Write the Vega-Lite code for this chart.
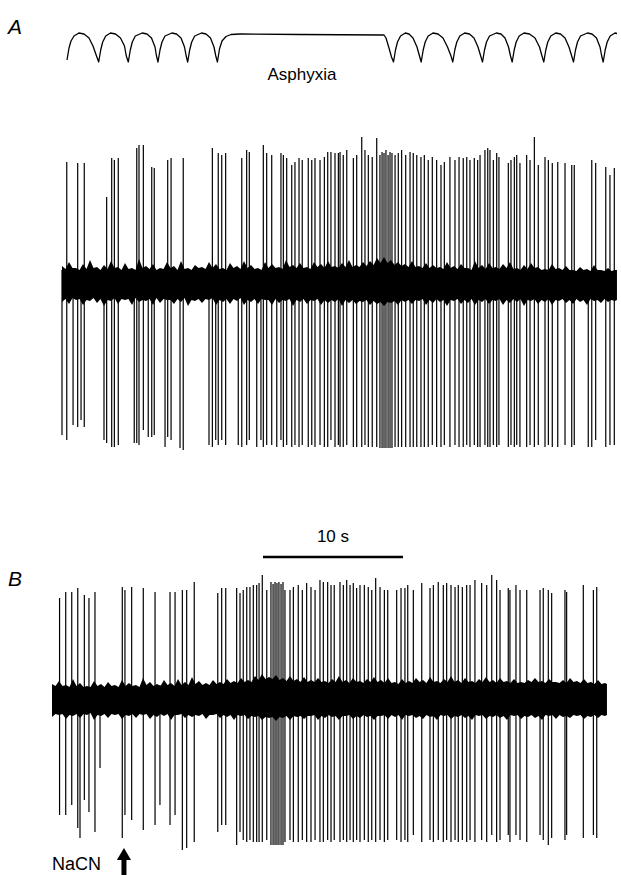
{
  "$schema": "https://vega.github.io/schema/vega-lite/v6.json",
  "padding": 0,
  "spacing": 0,
  "background": "white",
  "config": {"view": {"stroke": null}, "concat": {"spacing": 0}},
  "datasets": {
    "resp": [
      {"t":0.357,"v":2},{"t":0.5,"v":14},{"t":0.643,"v":21},{"t":0.857,"v":26},{"t":1.207,"v":29},{"t":1.571,"v":28},{"t":1.929,"v":24},{"t":2.214,"v":16},{"t":2.464,"v":6},{"t":2.621,"v":0},
      {"t":2.764,"v":12},{"t":2.907,"v":20},{"t":3.121,"v":26},{"t":3.464,"v":29},{"t":3.821,"v":28},{"t":4.179,"v":24},{"t":4.464,"v":16},{"t":4.593,"v":6},{"t":4.736,"v":0},
      {"t":4.879,"v":12},{"t":5.021,"v":20},{"t":5.236,"v":26},{"t":5.729,"v":29},{"t":6.071,"v":28},{"t":6.393,"v":24},{"t":6.643,"v":15},{"t":6.75,"v":6},{"t":6.857,"v":0},
      {"t":7.0,"v":12},{"t":7.143,"v":20},{"t":7.357,"v":26},{"t":7.85,"v":29},{"t":8.179,"v":28},{"t":8.5,"v":24},{"t":8.75,"v":15},{"t":8.871,"v":6},{"t":8.979,"v":0},
      {"t":9.121,"v":12},{"t":9.264,"v":20},{"t":9.479,"v":26},{"t":9.964,"v":29},{"t":10.286,"v":28},{"t":10.607,"v":24},{"t":10.857,"v":15},{"t":10.986,"v":6},{"t":11.1,"v":0},
      {"t":11.25,"v":13},{"t":11.429,"v":21},{"t":11.714,"v":25.5},{"t":12.071,"v":27.5},{"t":12.714,"v":28},{"t":17.0,"v":27.5},{"t":23.0,"v":27},
      {"t":23.143,"v":24},{"t":23.357,"v":14},{"t":23.536,"v":5},{"t":23.679,"v":0},
      {"t":23.821,"v":12},{"t":23.964,"v":20},{"t":24.179,"v":26},{"t":24.521,"v":29},{"t":24.786,"v":28},{"t":25.071,"v":24},{"t":25.357,"v":15},{"t":25.536,"v":6},{"t":25.657,"v":0},
      {"t":25.8,"v":12},{"t":25.943,"v":20},{"t":26.157,"v":26},{"t":26.5,"v":29},{"t":26.857,"v":28},{"t":27.214,"v":24},{"t":27.536,"v":15},{"t":27.786,"v":6},{"t":27.914,"v":0},
      {"t":28.057,"v":12},{"t":28.2,"v":20},{"t":28.414,"v":26},{"t":28.764,"v":29},{"t":29.107,"v":28},{"t":29.429,"v":24},{"t":29.714,"v":15},{"t":29.907,"v":6},{"t":30.036,"v":0},
      {"t":30.179,"v":12},{"t":30.321,"v":20},{"t":30.536,"v":26},{"t":31.021,"v":29},{"t":31.357,"v":28},{"t":31.643,"v":24},{"t":31.893,"v":15},{"t":32.036,"v":6},{"t":32.157,"v":0},
      {"t":32.3,"v":12},{"t":32.443,"v":20},{"t":32.657,"v":26},{"t":33.0,"v":29},{"t":33.393,"v":28},{"t":33.786,"v":24},{"t":34.107,"v":15},{"t":34.286,"v":6},{"t":34.414,"v":0},
      {"t":34.557,"v":12},{"t":34.7,"v":20},{"t":34.914,"v":26},{"t":35.264,"v":29},{"t":35.607,"v":28},{"t":35.929,"v":24},{"t":36.214,"v":15},{"t":36.407,"v":6},{"t":36.536,"v":0},
      {"t":36.679,"v":12},{"t":36.821,"v":20},{"t":37.036,"v":26},{"t":37.529,"v":29},{"t":37.857,"v":28},{"t":38.179,"v":24},{"t":38.429,"v":15},{"t":38.55,"v":6},{"t":38.657,"v":0},
      {"t":38.8,"v":12},{"t":38.943,"v":20},{"t":39.157,"v":26},{"t":39.5,"v":29},{"t":39.643,"v":28.5}
    ],
    "panelA": [{"t":-3.357,"v":34,"label":"A"}],
    "noteTop": [{"t":17.14,"v":-13,"label":"Asphyxia"}],
    "bandA": [
      {"t":0,"hi":19,"lo":-17},{"t":0.25,"hi":16,"lo":-14},{"t":0.5,"hi":23,"lo":-19},{"t":0.75,"hi":17,"lo":-13},{"t":1,"hi":17,"lo":-15},{"t":1.25,"hi":15,"lo":-14},{"t":1.5,"hi":21,"lo":-20},{"t":1.75,"hi":16,"lo":-15},{"t":2,"hi":25,"lo":-16},{"t":2.25,"hi":17,"lo":-13},{"t":2.5,"hi":18,"lo":-18},{"t":2.75,"hi":15,"lo":-14},{"t":3,"hi":20,"lo":-21},{"t":3.25,"hi":16,"lo":-15},{"t":3.5,"hi":24,"lo":-16},{"t":3.75,"hi":17,"lo":-13},{"t":4,"hi":18,"lo":-19},{"t":4.25,"hi":15,"lo":-14},{"t":4.5,"hi":22,"lo":-15},{"t":4.75,"hi":16,"lo":-14},
      {"t":5,"hi":17,"lo":-20},{"t":5.25,"hi":15,"lo":-13},{"t":5.5,"hi":26,"lo":-17},{"t":5.75,"hi":17,"lo":-15},{"t":6,"hi":19,"lo":-16},{"t":6.25,"hi":16,"lo":-14},{"t":6.5,"hi":21,"lo":-20},{"t":6.75,"hi":15,"lo":-13},{"t":7,"hi":17,"lo":-18},{"t":7.25,"hi":16,"lo":-14},{"t":7.5,"hi":23,"lo":-15},{"t":7.75,"hi":17,"lo":-15},{"t":8,"hi":19,"lo":-19},{"t":8.25,"hi":15,"lo":-14},{"t":8.5,"hi":24,"lo":-17},{"t":8.75,"hi":16,"lo":-13},{"t":9,"hi":17,"lo":-21},{"t":9.25,"hi":15,"lo":-15},{"t":9.5,"hi":20,"lo":-16},{"t":9.75,"hi":17,"lo":-14},
      {"t":10,"hi":18,"lo":-18},{"t":10.25,"hi":16,"lo":-14},{"t":10.5,"hi":23,"lo":-15},{"t":10.75,"hi":17,"lo":-13},{"t":11,"hi":21,"lo":-20},{"t":11.25,"hi":16,"lo":-15},{"t":11.5,"hi":17,"lo":-17},{"t":11.75,"hi":15,"lo":-14},{"t":12,"hi":22,"lo":-19},{"t":12.25,"hi":17,"lo":-14},{"t":12.5,"hi":19,"lo":-16},{"t":12.75,"hi":16,"lo":-13},{"t":13,"hi":24,"lo":-20},{"t":13.25,"hi":17,"lo":-15},{"t":13.5,"hi":20,"lo":-17},{"t":13.75,"hi":16,"lo":-14},{"t":14,"hi":17,"lo":-19},{"t":14.25,"hi":15,"lo":-14},{"t":14.5,"hi":23,"lo":-15},{"t":14.75,"hi":17,"lo":-15},
      {"t":15,"hi":21,"lo":-20},{"t":15.25,"hi":17,"lo":-14},{"t":15.5,"hi":18,"lo":-18},{"t":15.75,"hi":16,"lo":-15},{"t":16,"hi":25,"lo":-16},{"t":16.25,"hi":18,"lo":-14},{"t":16.5,"hi":20,"lo":-21},{"t":16.75,"hi":17,"lo":-15},{"t":17,"hi":22,"lo":-17},{"t":17.25,"hi":17,"lo":-14},{"t":17.5,"hi":18,"lo":-19},{"t":17.75,"hi":16,"lo":-15},{"t":18,"hi":23,"lo":-16},{"t":18.25,"hi":18,"lo":-14},{"t":18.5,"hi":21,"lo":-20},{"t":18.75,"hi":17,"lo":-15},{"t":19,"hi":24,"lo":-18},{"t":19.25,"hi":18,"lo":-15},{"t":19.5,"hi":19,"lo":-17},{"t":19.75,"hi":17,"lo":-14},
      {"t":20,"hi":22,"lo":-21},{"t":20.25,"hi":18,"lo":-15},{"t":20.5,"hi":25,"lo":-18},{"t":20.75,"hi":18,"lo":-15},{"t":21,"hi":20,"lo":-19},{"t":21.25,"hi":18,"lo":-16},{"t":21.5,"hi":23,"lo":-17},{"t":21.75,"hi":19,"lo":-15},{"t":22,"hi":24,"lo":-20},{"t":22.25,"hi":20,"lo":-16},{"t":22.5,"hi":27,"lo":-19},{"t":22.75,"hi":22,"lo":-17},{"t":23,"hi":28,"lo":-21},{"t":23.25,"hi":22,"lo":-17},{"t":23.5,"hi":25,"lo":-18},{"t":23.75,"hi":20,"lo":-16},{"t":24,"hi":23,"lo":-20},{"t":24.25,"hi":19,"lo":-15},{"t":24.5,"hi":21,"lo":-17},{"t":24.75,"hi":18,"lo":-15},
      {"t":25,"hi":24,"lo":-19},{"t":25.25,"hi":18,"lo":-15},{"t":25.5,"hi":19,"lo":-16},{"t":25.75,"hi":17,"lo":-14},{"t":26,"hi":22,"lo":-20},{"t":26.25,"hi":17,"lo":-15},{"t":26.5,"hi":20,"lo":-18},{"t":26.75,"hi":17,"lo":-14},{"t":27,"hi":18,"lo":-17},{"t":27.25,"hi":16,"lo":-15},{"t":27.5,"hi":23,"lo":-21},{"t":27.75,"hi":17,"lo":-15},{"t":28,"hi":19,"lo":-16},{"t":28.25,"hi":16,"lo":-14},{"t":28.5,"hi":21,"lo":-19},{"t":28.75,"hi":17,"lo":-15},{"t":29,"hi":17,"lo":-18},{"t":29.25,"hi":15,"lo":-14},{"t":29.5,"hi":24,"lo":-20},{"t":29.75,"hi":17,"lo":-15},
      {"t":30,"hi":20,"lo":-17},{"t":30.25,"hi":16,"lo":-14},{"t":30.5,"hi":22,"lo":-19},{"t":30.75,"hi":17,"lo":-15},{"t":31,"hi":18,"lo":-16},{"t":31.25,"hi":16,"lo":-14},{"t":31.5,"hi":21,"lo":-20},{"t":31.75,"hi":17,"lo":-15},{"t":32,"hi":23,"lo":-18},{"t":32.25,"hi":16,"lo":-14},{"t":32.5,"hi":17,"lo":-17},{"t":32.75,"hi":15,"lo":-14},{"t":33,"hi":20,"lo":-21},{"t":33.25,"hi":16,"lo":-15},{"t":33.5,"hi":22,"lo":-16},{"t":33.75,"hi":17,"lo":-14},{"t":34,"hi":18,"lo":-19},{"t":34.25,"hi":15,"lo":-15},{"t":34.5,"hi":16,"lo":-17},{"t":34.75,"hi":15,"lo":-14},
      {"t":35,"hi":21,"lo":-20},{"t":35.25,"hi":16,"lo":-15},{"t":35.5,"hi":17,"lo":-16},{"t":35.75,"hi":15,"lo":-14},{"t":36,"hi":19,"lo":-18},{"t":36.25,"hi":15,"lo":-15},{"t":36.5,"hi":15,"lo":-19},{"t":36.75,"hi":14,"lo":-14},{"t":37,"hi":18,"lo":-17},{"t":37.25,"hi":15,"lo":-15},{"t":37.5,"hi":16,"lo":-20},{"t":37.75,"hi":14,"lo":-14},{"t":38,"hi":20,"lo":-16},{"t":38.25,"hi":15,"lo":-15},{"t":38.5,"hi":15,"lo":-18},{"t":38.75,"hi":14,"lo":-14},{"t":39,"hi":17,"lo":-17},{"t":39.25,"hi":14,"lo":-15},{"t":39.5,"hi":15,"lo":-16},{"t":39.64,"hi":15,"lo":-15}
    ],
    "spikesA": [
      {"t":0.00,"hi":15,"lo":-150},{"t":0.34,"hi":123,"lo":-155},{"t":0.79,"hi":15,"lo":-140},{"t":1.12,"hi":122,"lo":-142},{"t":1.36,"hi":15,"lo":-135},{"t":1.59,"hi":122,"lo":-142},
      {"t":3.00,"hi":15,"lo":-155},{"t":3.19,"hi":88,"lo":-158},{"t":3.55,"hi":127,"lo":-162},{"t":3.74,"hi":125,"lo":-162},{"t":4.02,"hi":127,"lo":-160},
      {"t":5.16,"hi":15,"lo":-158},{"t":5.34,"hi":137,"lo":-158},{"t":5.50,"hi":140,"lo":-160},{"t":5.81,"hi":140,"lo":-145},{"t":6.16,"hi":15,"lo":-152},{"t":6.41,"hi":118,"lo":-152},{"t":6.59,"hi":117,"lo":-150},
      {"t":7.36,"hi":15,"lo":-162},{"t":7.55,"hi":125,"lo":-152},{"t":7.79,"hi":127,"lo":-155},{"t":8.43,"hi":15,"lo":-163},{"t":8.66,"hi":127,"lo":-165},
      {"t":10.50,"hi":15,"lo":-160},{"t":10.74,"hi":137,"lo":-162},{"t":10.98,"hi":15,"lo":-155},{"t":11.16,"hi":132,"lo":-160},{"t":11.41,"hi":130,"lo":-155},{"t":11.69,"hi":132,"lo":-160},
      {"t":12.59,"hi":15,"lo":-160},{"t":12.84,"hi":127,"lo":-162},{"t":13.19,"hi":135,"lo":-160},{"t":13.38,"hi":133,"lo":-155},{"t":13.91,"hi":15,"lo":-162},{"t":14.21,"hi":15,"lo":-155},
      {"t":14.38,"hi":140,"lo":-162},{"t":14.62,"hi":132,"lo":-160},{"t":14.98,"hi":130,"lo":-160},{"t":15.34,"hi":15,"lo":-162},{"t":15.64,"hi":132,"lo":-155},{"t":15.81,"hi":130,"lo":-162},
      {"t":16.05,"hi":127,"lo":-160},{"t":16.41,"hi":120,"lo":-162},{"t":16.64,"hi":123,"lo":-160},{"t":16.93,"hi":127,"lo":-162},{"t":17.16,"hi":125,"lo":-160},{"t":17.59,"hi":127,"lo":-162},
      {"t":17.84,"hi":125,"lo":-160},{"t":18.07,"hi":127,"lo":-162},{"t":18.43,"hi":125,"lo":-160},{"t":18.74,"hi":128,"lo":-162},{"t":18.98,"hi":133,"lo":-162},{"t":19.21,"hi":133,"lo":-155},
      {"t":19.50,"hi":132,"lo":-162},{"t":19.74,"hi":132,"lo":-160},{"t":19.86,"hi":133,"lo":-162},{"t":20.09,"hi":130,"lo":-162},{"t":20.34,"hi":135,"lo":-160},{"t":20.81,"hi":127,"lo":-162},
      {"t":21.05,"hi":130,"lo":-162},{"t":21.41,"hi":148,"lo":-162},{"t":21.64,"hi":135,"lo":-160},{"t":21.88,"hi":130,"lo":-162},{"t":22.16,"hi":128,"lo":-162},{"t":22.48,"hi":147,"lo":-162},
      {"t":22.71,"hi":130,"lo":-163},{"t":22.86,"hi":133,"lo":-163},{"t":23.00,"hi":132,"lo":-163},{"t":23.14,"hi":135,"lo":-163},{"t":23.29,"hi":130,"lo":-163},{"t":23.43,"hi":133,"lo":-163},{"t":23.57,"hi":132,"lo":-163},
      {"t":23.79,"hi":130,"lo":-162},{"t":24.02,"hi":132,"lo":-162},{"t":24.26,"hi":135,"lo":-162},{"t":24.55,"hi":130,"lo":-162},{"t":24.86,"hi":133,"lo":-162},{"t":25.09,"hi":132,"lo":-162},
      {"t":25.34,"hi":130,"lo":-162},{"t":25.64,"hi":128,"lo":-162},{"t":25.88,"hi":130,"lo":-162},{"t":26.16,"hi":125,"lo":-162},{"t":26.45,"hi":128,"lo":-160},{"t":26.76,"hi":125,"lo":-162},
      {"t":27.07,"hi":120,"lo":-162},{"t":27.31,"hi":123,"lo":-160},{"t":27.71,"hi":128,"lo":-162},{"t":28.07,"hi":125,"lo":-160},{"t":28.36,"hi":128,"lo":-162},{"t":28.66,"hi":127,"lo":-162},
      {"t":28.91,"hi":128,"lo":-160},{"t":29.14,"hi":125,"lo":-162},{"t":29.45,"hi":127,"lo":-160},{"t":29.69,"hi":125,"lo":-162},{"t":29.86,"hi":130,"lo":-162},{"t":30.21,"hi":135,"lo":-160},
      {"t":30.41,"hi":137,"lo":-162},{"t":30.57,"hi":135,"lo":-162},{"t":30.81,"hi":125,"lo":-160},{"t":31.05,"hi":132,"lo":-162},{"t":31.21,"hi":128,"lo":-160},{"t":31.88,"hi":122,"lo":-162},
      {"t":32.07,"hi":125,"lo":-160},{"t":32.31,"hi":128,"lo":-162},{"t":32.48,"hi":130,"lo":-160},{"t":32.71,"hi":122,"lo":-162},{"t":33.19,"hi":130,"lo":-162},{"t":33.43,"hi":125,"lo":-160},
      {"t":33.74,"hi":148,"lo":-162},{"t":34.02,"hi":120,"lo":-160},{"t":34.50,"hi":128,"lo":-162},{"t":34.74,"hi":125,"lo":-160},{"t":35.02,"hi":122,"lo":-162},{"t":35.41,"hi":123,"lo":-162},
      {"t":35.93,"hi":122,"lo":-160},{"t":36.41,"hi":120,"lo":-162},{"t":36.59,"hi":120,"lo":-160},{"t":37.59,"hi":15,"lo":-162},{"t":37.84,"hi":125,"lo":-162},{"t":38.12,"hi":122,"lo":-155},
      {"t":38.84,"hi":118,"lo":-162},{"t":39.14,"hi":110,"lo":-160},{"t":39.45,"hi":117,"lo":-160}
    ],
    "bandB": [
      {"t":0,"hi":16,"lo":-17},{"t":0.25,"hi":14,"lo":-14},{"t":0.5,"hi":19,"lo":-15},{"t":0.75,"hi":14,"lo":-14},{"t":1,"hi":15,"lo":-19},{"t":1.25,"hi":13,"lo":-15},{"t":1.5,"hi":21,"lo":-16},{"t":1.75,"hi":14,"lo":-14},{"t":2,"hi":17,"lo":-18},{"t":2.25,"hi":13,"lo":-14},{"t":2.5,"hi":14,"lo":-15},{"t":2.75,"hi":13,"lo":-13},{"t":3,"hi":19,"lo":-20},{"t":3.25,"hi":14,"lo":-15},{"t":3.5,"hi":16,"lo":-16},{"t":3.75,"hi":13,"lo":-14},{"t":4,"hi":18,"lo":-18},{"t":4.25,"hi":14,"lo":-14},{"t":4.5,"hi":15,"lo":-15},{"t":4.75,"hi":13,"lo":-14},
      {"t":5,"hi":20,"lo":-19},{"t":5.25,"hi":14,"lo":-15},{"t":5.5,"hi":17,"lo":-16},{"t":5.75,"hi":14,"lo":-14},{"t":6,"hi":15,"lo":-18},{"t":6.25,"hi":13,"lo":-14},{"t":6.5,"hi":22,"lo":-15},{"t":6.75,"hi":15,"lo":-14},{"t":7,"hi":18,"lo":-19},{"t":7.25,"hi":14,"lo":-15},{"t":7.5,"hi":16,"lo":-17},{"t":7.75,"hi":14,"lo":-14},{"t":8,"hi":20,"lo":-16},{"t":8.25,"hi":15,"lo":-14},{"t":8.5,"hi":17,"lo":-20},{"t":8.75,"hi":14,"lo":-15},{"t":9,"hi":21,"lo":-15},{"t":9.25,"hi":15,"lo":-14},{"t":9.5,"hi":18,"lo":-18},{"t":9.75,"hi":15,"lo":-15},
      {"t":10,"hi":23,"lo":-17},{"t":10.25,"hi":16,"lo":-15},{"t":10.5,"hi":19,"lo":-16},{"t":10.75,"hi":15,"lo":-14},{"t":11,"hi":17,"lo":-19},{"t":11.25,"hi":15,"lo":-15},{"t":11.5,"hi":20,"lo":-15},{"t":11.75,"hi":16,"lo":-14},{"t":12,"hi":18,"lo":-18},{"t":12.25,"hi":16,"lo":-15},{"t":12.5,"hi":21,"lo":-17},{"t":12.75,"hi":17,"lo":-15},{"t":13,"hi":19,"lo":-20},{"t":13.25,"hi":17,"lo":-15},{"t":13.5,"hi":22,"lo":-16},{"t":13.75,"hi":18,"lo":-15},{"t":14,"hi":20,"lo":-19},{"t":14.25,"hi":18,"lo":-16},{"t":14.5,"hi":24,"lo":-17},{"t":14.75,"hi":20,"lo":-16},
      {"t":15,"hi":26,"lo":-20},{"t":15.25,"hi":21,"lo":-17},{"t":15.5,"hi":23,"lo":-18},{"t":15.75,"hi":21,"lo":-17},{"t":16,"hi":25,"lo":-21},{"t":16.25,"hi":20,"lo":-17},{"t":16.5,"hi":22,"lo":-18},{"t":16.75,"hi":19,"lo":-16},{"t":17,"hi":24,"lo":-20},{"t":17.25,"hi":19,"lo":-16},{"t":17.5,"hi":21,"lo":-17},{"t":17.75,"hi":18,"lo":-16},{"t":18,"hi":23,"lo":-19},{"t":18.25,"hi":18,"lo":-16},{"t":18.5,"hi":20,"lo":-16},{"t":18.75,"hi":18,"lo":-15},{"t":19,"hi":22,"lo":-20},{"t":19.25,"hi":18,"lo":-16},{"t":19.5,"hi":19,"lo":-18},{"t":19.75,"hi":17,"lo":-15},
      {"t":20,"hi":21,"lo":-17},{"t":20.25,"hi":18,"lo":-16},{"t":20.5,"hi":24,"lo":-20},{"t":20.75,"hi":18,"lo":-16},{"t":21,"hi":20,"lo":-16},{"t":21.25,"hi":17,"lo":-15},{"t":21.5,"hi":22,"lo":-19},{"t":21.75,"hi":18,"lo":-16},{"t":22,"hi":19,"lo":-18},{"t":22.25,"hi":17,"lo":-15},{"t":22.5,"hi":21,"lo":-17},{"t":22.75,"hi":18,"lo":-16},{"t":23,"hi":23,"lo":-20},{"t":23.25,"hi":18,"lo":-16},{"t":23.5,"hi":20,"lo":-16},{"t":23.75,"hi":17,"lo":-15},{"t":24,"hi":22,"lo":-19},{"t":24.25,"hi":17,"lo":-15},{"t":24.5,"hi":18,"lo":-17},{"t":24.75,"hi":16,"lo":-15},
      {"t":25,"hi":21,"lo":-20},{"t":25.25,"hi":17,"lo":-15},{"t":25.5,"hi":19,"lo":-16},{"t":25.75,"hi":17,"lo":-15},{"t":26,"hi":22,"lo":-18},{"t":26.25,"hi":18,"lo":-16},{"t":26.5,"hi":20,"lo":-19},{"t":26.75,"hi":17,"lo":-15},{"t":27,"hi":23,"lo":-17},{"t":27.25,"hi":18,"lo":-16},{"t":27.5,"hi":19,"lo":-20},{"t":27.75,"hi":17,"lo":-15},{"t":28,"hi":21,"lo":-16},{"t":28.25,"hi":18,"lo":-15},{"t":28.5,"hi":24,"lo":-19},{"t":28.75,"hi":18,"lo":-16},{"t":29,"hi":20,"lo":-17},{"t":29.25,"hi":17,"lo":-15},{"t":29.5,"hi":22,"lo":-18},{"t":29.75,"hi":18,"lo":-16},
      {"t":30,"hi":19,"lo":-20},{"t":30.25,"hi":17,"lo":-15},{"t":30.5,"hi":21,"lo":-16},{"t":30.75,"hi":18,"lo":-15},{"t":31,"hi":23,"lo":-19},{"t":31.25,"hi":18,"lo":-16},{"t":31.5,"hi":20,"lo":-17},{"t":31.75,"hi":17,"lo":-15},{"t":32,"hi":22,"lo":-18},{"t":32.25,"hi":18,"lo":-16},{"t":32.5,"hi":19,"lo":-20},{"t":32.75,"hi":17,"lo":-15},{"t":33,"hi":21,"lo":-16},{"t":33.25,"hi":17,"lo":-15},{"t":33.5,"hi":18,"lo":-19},{"t":33.75,"hi":17,"lo":-16},{"t":34,"hi":20,"lo":-17},{"t":34.25,"hi":18,"lo":-15},{"t":34.5,"hi":22,"lo":-18},{"t":34.75,"hi":18,"lo":-16},
      {"t":35,"hi":19,"lo":-20},{"t":35.25,"hi":17,"lo":-15},{"t":35.5,"hi":21,"lo":-16},{"t":35.75,"hi":18,"lo":-15},{"t":36,"hi":18,"lo":-19},{"t":36.25,"hi":17,"lo":-15},{"t":36.5,"hi":20,"lo":-17},{"t":36.75,"hi":17,"lo":-16},{"t":37,"hi":22,"lo":-18},{"t":37.25,"hi":18,"lo":-15},{"t":37.5,"hi":19,"lo":-16},{"t":37.75,"hi":17,"lo":-15},{"t":38,"hi":21,"lo":-19},{"t":38.25,"hi":17,"lo":-16},{"t":38.5,"hi":18,"lo":-17},{"t":38.75,"hi":16,"lo":-15},{"t":39,"hi":20,"lo":-18},{"t":39.25,"hi":16,"lo":-15},{"t":39.5,"hi":17,"lo":-16},{"t":39.64,"hi":16,"lo":-15}
    ],
    "spikesB": [
      {"t":0.54,"hi":102,"lo":-115},{"t":0.98,"hi":108,"lo":-115},{"t":1.41,"hi":108,"lo":-105},{"t":1.84,"hi":112,"lo":-128},{"t":2.00,"hi":15,"lo":-138},{"t":2.31,"hi":105,"lo":-100},
      {"t":2.64,"hi":102,"lo":-112},{"t":3.07,"hi":108,"lo":-132},{"t":3.43,"hi":15,"lo":-68},{"t":5.02,"hi":113,"lo":-138},{"t":5.21,"hi":110,"lo":-115},{"t":5.69,"hi":113,"lo":-120},
      {"t":6.52,"hi":112,"lo":-130},{"t":7.36,"hi":108,"lo":-125},{"t":7.71,"hi":15,"lo":-105},{"t":8.43,"hi":108,"lo":-125},{"t":8.79,"hi":108,"lo":-115},{"t":9.31,"hi":110,"lo":-150},
      {"t":9.62,"hi":110,"lo":-148},{"t":10.16,"hi":118,"lo":-142},{"t":11.84,"hi":107,"lo":-132},{"t":12.12,"hi":112,"lo":-125},{"t":12.41,"hi":112,"lo":-125},{"t":13.19,"hi":112,"lo":-145},
      {"t":13.43,"hi":107,"lo":-132},{"t":13.66,"hi":110,"lo":-140},{"t":13.91,"hi":113,"lo":-142},{"t":14.14,"hi":113,"lo":-140},{"t":14.38,"hi":115,"lo":-142},{"t":14.62,"hi":115,"lo":-142},
      {"t":14.79,"hi":117,"lo":-142},{"t":15.02,"hi":125,"lo":-142},{"t":15.34,"hi":110,"lo":-140},{"t":15.64,"hi":118,"lo":-145},{"t":15.79,"hi":116,"lo":-145},{"t":15.93,"hi":118,"lo":-145},
      {"t":16.07,"hi":117,"lo":-145},{"t":16.21,"hi":118,"lo":-145},{"t":16.36,"hi":116,"lo":-145},{"t":16.50,"hi":118,"lo":-145},{"t":16.64,"hi":110,"lo":-142},{"t":17.00,"hi":110,"lo":-140},
      {"t":17.24,"hi":113,"lo":-142},{"t":17.59,"hi":115,"lo":-142},{"t":17.88,"hi":110,"lo":-140},{"t":18.19,"hi":117,"lo":-142},{"t":18.50,"hi":113,"lo":-142},{"t":18.79,"hi":110,"lo":-140},
      {"t":19.14,"hi":120,"lo":-142},{"t":19.38,"hi":118,"lo":-142},{"t":19.69,"hi":118,"lo":-140},{"t":19.93,"hi":115,"lo":-142},{"t":20.16,"hi":115,"lo":-140},{"t":20.57,"hi":118,"lo":-142},
      {"t":20.81,"hi":115,"lo":-140},{"t":21.05,"hi":120,"lo":-142},{"t":21.29,"hi":115,"lo":-140},{"t":21.52,"hi":117,"lo":-142},{"t":21.76,"hi":112,"lo":-140},{"t":22.00,"hi":115,"lo":-142},
      {"t":22.31,"hi":115,"lo":-140},{"t":22.59,"hi":113,"lo":-142},{"t":22.84,"hi":110,"lo":-140},{"t":23.12,"hi":122,"lo":-142},{"t":23.43,"hi":113,"lo":-140},{"t":23.74,"hi":110,"lo":-142},
      {"t":23.98,"hi":110,"lo":-140},{"t":24.62,"hi":110,"lo":-140},{"t":24.93,"hi":112,"lo":-142},{"t":25.21,"hi":112,"lo":-140},{"t":25.41,"hi":115,"lo":-142},{"t":25.81,"hi":110,"lo":-135},
      {"t":26.41,"hi":117,"lo":-142},{"t":27.00,"hi":112,"lo":-140},{"t":27.24,"hi":115,"lo":-142},{"t":27.59,"hi":118,"lo":-140},{"t":27.95,"hi":115,"lo":-142},{"t":28.19,"hi":117,"lo":-140},
      {"t":28.50,"hi":115,"lo":-142},{"t":28.79,"hi":113,"lo":-140},{"t":29.02,"hi":115,"lo":-142},{"t":29.31,"hi":113,"lo":-140},{"t":29.62,"hi":115,"lo":-142},{"t":29.86,"hi":115,"lo":-140},
      {"t":30.21,"hi":120,"lo":-142},{"t":30.69,"hi":117,"lo":-140},{"t":31.05,"hi":115,"lo":-142},{"t":31.41,"hi":125,"lo":-135},{"t":31.76,"hi":120,"lo":-142},{"t":32.00,"hi":110,"lo":-140},
      {"t":32.59,"hi":112,"lo":-135},{"t":32.71,"hi":110,"lo":-142},{"t":33.14,"hi":115,"lo":-135},{"t":33.43,"hi":110,"lo":-140},{"t":33.91,"hi":110,"lo":-142},{"t":34.86,"hi":110,"lo":-135},
      {"t":35.09,"hi":112,"lo":-140},{"t":35.45,"hi":110,"lo":-145},{"t":35.69,"hi":107,"lo":-138},{"t":36.64,"hi":110,"lo":-140},{"t":36.76,"hi":108,"lo":-135},{"t":37.95,"hi":115,"lo":-138},
      {"t":38.67,"hi":110,"lo":-135},{"t":38.91,"hi":113,"lo":-138}
    ],
    "panelB": [{"t":-2.643,"v":120,"label":"B"}],
    "noteB": [{"t":20.07,"v":163,"label":"10 s"}],
    "nacn": [{"t":0,"v":-165,"label":"NaCN"}],
    "scaleBar": [{"t":15.07,"t2":25.07,"v":143}],
    "arrow": [{"t":5.14,"head":-154,"top":-158,"bottom":-176}]
  },
  "vconcat": [
    {
      "width": 621,
      "height": 110,
      "encoding": {
        "x": {"field": "t", "type": "quantitative", "scale": {"domain": [-4.4286, 39.9286], "nice": false, "zero": false}, "axis": null},
        "y": {"field": "v", "type": "quantitative", "scale": {"domain": [-48, 62], "nice": false, "zero": false}, "axis": null}
      },
      "layer": [
        {
          "data": {"name": "resp"},
          "mark": {"type": "line", "color": "black", "strokeWidth": 1.3, "strokeJoin": "round"}
        },
        {
          "data": {"name": "panelA"},
          "mark": {"type": "text", "font": "Liberation Sans", "fontSize": 21, "fontStyle": "italic", "color": "black", "baseline": "middle", "align": "center"},
          "encoding": {"text": {"field": "label"}}
        },
        {
          "data": {"name": "noteTop"},
          "mark": {"type": "text", "font": "Liberation Sans", "fontSize": 17, "color": "black", "baseline": "middle", "align": "center"},
          "encoding": {"text": {"field": "label"}}
        }
      ]
    },
    {
      "width": 621,
      "height": 360,
      "encoding": {
        "x": {"field": "t", "type": "quantitative", "scale": {"domain": [-4.4286, 39.9286], "nice": false, "zero": false}, "axis": null},
        "y": {"field": "hi", "type": "quantitative", "scale": {"domain": [-185, 175], "nice": false, "zero": false}, "axis": null},
        "y2": {"field": "lo"}
      },
      "layer": [
        {
          "data": {"name": "bandA"},
          "mark": {"type": "area", "color": "black", "opacity": 1}
        },
        {
          "data": {"name": "spikesA"},
          "mark": {"type": "rule", "color": "black", "strokeWidth": 1.2}
        }
      ]
    },
    {
      "width": 621,
      "height": 405,
      "layer": [
        {
          "data": {"name": "bandB"},
          "mark": {"type": "area", "color": "black"},
          "encoding": {
            "x": {"field": "t", "type": "quantitative", "scale": {"domain": [-3.7143, 40.6429], "nice": false, "zero": false}, "axis": null},
            "y": {"field": "hi", "type": "quantitative", "scale": {"domain": [-175, 230], "nice": false, "zero": false}, "axis": null},
            "y2": {"field": "lo"}
          }
        },
        {
          "data": {"name": "spikesB"},
          "mark": {"type": "rule", "color": "black", "strokeWidth": 1.2},
          "encoding": {
            "x": {"field": "t", "type": "quantitative", "scale": {"domain": [-3.7143, 40.6429], "nice": false, "zero": false}, "axis": null},
            "y": {"field": "hi", "type": "quantitative", "scale": {"domain": [-175, 230], "nice": false, "zero": false}, "axis": null},
            "y2": {"field": "lo"}
          }
        },
        {
          "data": {"name": "scaleBar"},
          "mark": {"type": "rule", "color": "black", "strokeWidth": 2.5},
          "encoding": {
            "x": {"field": "t", "type": "quantitative", "scale": {"domain": [-3.7143, 40.6429], "nice": false, "zero": false}, "axis": null},
            "x2": {"field": "t2"},
            "y": {"field": "v", "type": "quantitative", "scale": {"domain": [-175, 230], "nice": false, "zero": false}, "axis": null}
          }
        },
        {
          "data": {"name": "panelB"},
          "mark": {"type": "text", "font": "Liberation Sans", "fontSize": 21, "fontStyle": "italic", "color": "black", "baseline": "middle", "align": "center"},
          "encoding": {
            "x": {"field": "t", "type": "quantitative", "scale": {"domain": [-3.7143, 40.6429], "nice": false, "zero": false}, "axis": null},
            "y": {"field": "v", "type": "quantitative", "scale": {"domain": [-175, 230], "nice": false, "zero": false}, "axis": null},
            "text": {"field": "label"}
          }
        },
        {
          "data": {"name": "noteB"},
          "mark": {"type": "text", "font": "Liberation Sans", "fontSize": 17, "color": "black", "baseline": "middle", "align": "center"},
          "encoding": {
            "x": {"field": "t", "type": "quantitative", "scale": {"domain": [-3.7143, 40.6429], "nice": false, "zero": false}, "axis": null},
            "y": {"field": "v", "type": "quantitative", "scale": {"domain": [-175, 230], "nice": false, "zero": false}, "axis": null},
            "text": {"field": "label"}
          }
        },
        {
          "data": {"name": "nacn"},
          "mark": {"type": "text", "font": "Liberation Sans", "fontSize": 18, "color": "black", "baseline": "middle", "align": "left"},
          "encoding": {
            "x": {"field": "t", "type": "quantitative", "scale": {"domain": [-3.7143, 40.6429], "nice": false, "zero": false}, "axis": null},
            "y": {"field": "v", "type": "quantitative", "scale": {"domain": [-175, 230], "nice": false, "zero": false}, "axis": null},
            "text": {"field": "label"}
          }
        },
        {
          "data": {"name": "arrow"},
          "mark": {"type": "rule", "color": "black", "strokeWidth": 5},
          "encoding": {
            "x": {"field": "t", "type": "quantitative", "scale": {"domain": [-3.7143, 40.6429], "nice": false, "zero": false}, "axis": null},
            "y": {"field": "top", "type": "quantitative", "scale": {"domain": [-175, 230], "nice": false, "zero": false}, "axis": null},
            "y2": {"field": "bottom"}
          }
        },
        {
          "data": {"name": "arrow"},
          "mark": {"type": "point", "shape": "triangle-up", "filled": true, "color": "black", "size": 200, "opacity": 1},
          "encoding": {
            "x": {"field": "t", "type": "quantitative", "scale": {"domain": [-3.7143, 40.6429], "nice": false, "zero": false}, "axis": null},
            "y": {"field": "head", "type": "quantitative", "scale": {"domain": [-175, 230], "nice": false, "zero": false}, "axis": null}
          }
        }
      ]
    }
  ]
}
